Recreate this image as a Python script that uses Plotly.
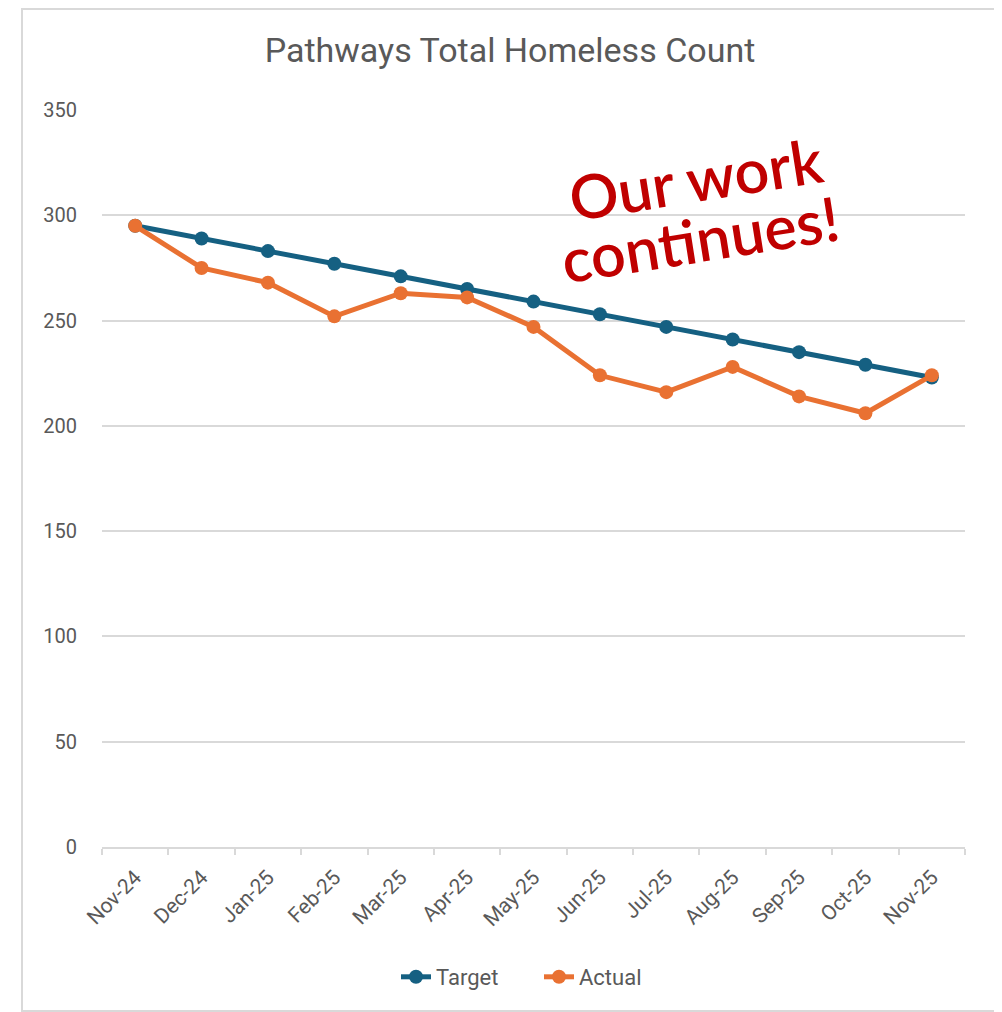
import plotly.graph_objects as go

months = ["Nov-24", "Dec-24", "Jan-25", "Feb-25", "Mar-25", "Apr-25", "May-25",
          "Jun-25", "Jul-25", "Aug-25", "Sep-25", "Oct-25", "Nov-25"]
target = [295, 289, 283, 277, 271, 265, 259, 253, 247, 241, 235, 229, 223]
actual = [295, 275, 268, 252, 263, 261, 247, 224, 216, 228, 214, 206, 224]
y_ticks = [0, 50, 100, 150, 200, 250, 300, 350]

GRAY = "#595959"
FONT = "Roboto"
W, H = 994, 1004          # page body has an 8px margin
L, R, T, B = 94, 37, 102, 165
PW, PH = W - L - R, H - T - B


def px(x):
    return (x - 8 - L) / PW


def py(y):
    return (H - B - (y - 8)) / PH


fig = go.Figure()
fig.add_trace(go.Scatter(x=months, y=target, name="Target", mode="lines+markers",
                         line=dict(color="#156082", width=5),
                         marker=dict(color="#156082", size=14)))
fig.add_trace(go.Scatter(x=months, y=actual, name="Actual", mode="lines+markers",
                         line=dict(color="#E97132", width=5),
                         marker=dict(color="#E97132", size=14)))

fig.update_layout(
    width=W, height=H,
    paper_bgcolor="white", plot_bgcolor="white",
    margin=dict(l=L, r=R, t=T, b=B),
    title=dict(text="Pathways Total Homeless Count", x=502 / W, xanchor="center",
               y=1 - 42 / H, yanchor="middle",
               font=dict(family=FONT, size=34, color=GRAY)),
    font=dict(family=FONT, color=GRAY, size=20),
    showlegend=True,
    legend=dict(orientation="h", x=px(539), xanchor="center", y=py(977), yanchor="middle",
                font=dict(size=22, color=GRAY), entrywidth=98, entrywidthmode="pixels"),
    xaxis=dict(type="category", range=[-0.5, 12.5], tickson="boundaries",
               ticks="outside", ticklen=6, tickcolor="#D9D9D9", tickwidth=1.5,
               showline=True, linecolor="#D9D9D9", linewidth=1.5,
               showgrid=False, tickangle=-45, tickfont=dict(size=21, color=GRAY),
               ticklabelstandoff=8, zeroline=False),
    yaxis=dict(range=[0, 350], tickvals=y_ticks, showgrid=True, gridcolor="#D9D9D9",
               gridwidth=1.5, zeroline=False, showline=False, ticks="",
               tickfont=dict(size=20, color=GRAY), ticklabelstandoff=24),
    shapes=[dict(type="rect", xref="paper", yref="paper",
                 x0=px(22), x1=px(996), y0=py(1011), y1=py(9),
                 line=dict(color="#D9D9D9", width=2), layer="below")],
    annotations=[
        dict(text="Our work", xref="paper", yref="paper",
             x=px(695), y=py(178), xanchor="center", yanchor="middle",
             showarrow=False, textangle=-9,
             font=dict(family="Lato Semibold, Lato", size=61, color="#C00000", weight=600)),
        dict(text="continues!", xref="paper", yref="paper",
             x=px(700), y=py(238), xanchor="center", yanchor="middle",
             showarrow=False, textangle=-9,
             font=dict(family="Lato Semibold, Lato", size=61, color="#C00000", weight=600)),
    ],
)

fig.write_html("out.html")
